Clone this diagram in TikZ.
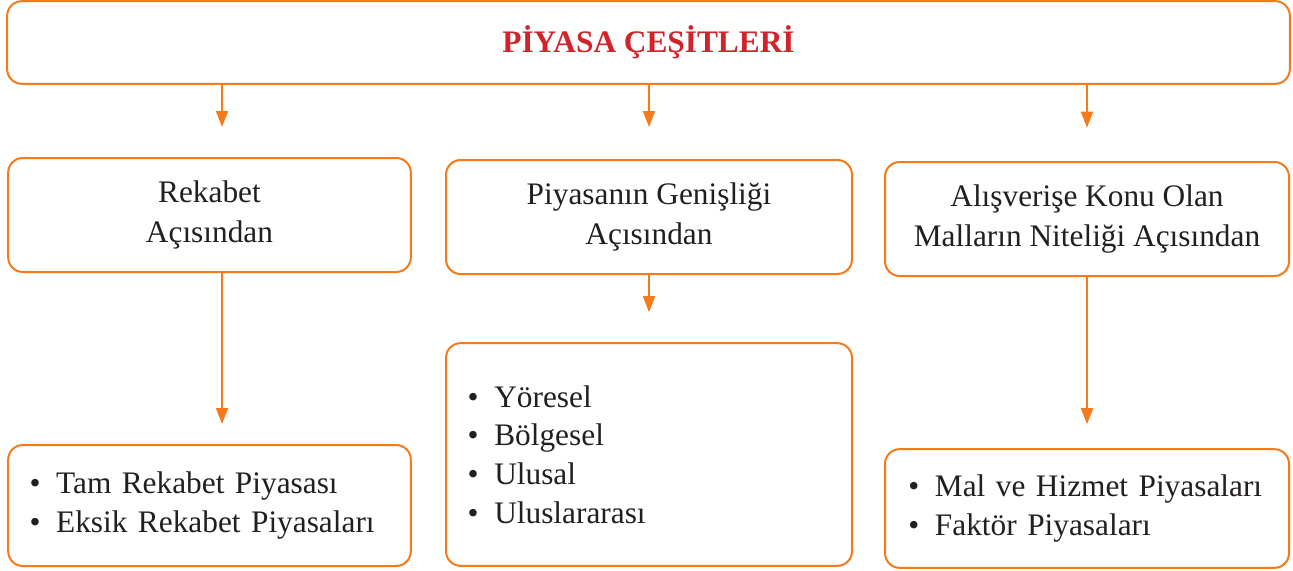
\documentclass[tikz,border=0pt]{standalone}
\usepackage{fontspec}
\setmainfont{Liberation Serif}
\usepackage{xcolor}
\usetikzlibrary{arrows.meta, positioning, calc}
\definecolor{cizgi}{RGB}{247,122,26}
\definecolor{baslik}{RGB}{210,35,42}
\definecolor{yazi}{RGB}{35,31,32}
\newcommand{\madde}[1]{\makebox[20pt][l]{\textbullet}#1}
\tikzstyle{kutu} = [rectangle, rounded corners=11pt, draw=cizgi, line width=1.5pt, fill=white, text=yazi, font=\fontsize{23.5}{30}\selectfont]
\tikzstyle{baslikkutu} = [kutu, minimum width=962pt, minimum height=62pt, text=baslik, font=\fontsize{23.5}{29}\selectfont\bfseries]
\tikzstyle{ustkutu} = [kutu, minimum height=85.5pt, align=center]
\tikzstyle{altkutu} = [kutu, align=left, inner xsep=16pt, font=\fontsize{23.5}{29}\selectfont]
\tikzstyle{arrow} = [draw=cizgi, line width=1.3pt, -{Triangle[length=12pt, width=9pt]}]

\begin{document}
\begin{tikzpicture}[x=0.75pt, y=-0.75pt]
    \useasboundingbox (0,0) rectangle (1293,571);
    \node[baslikkutu] (piyasa) at (648.5,42.5) {PİYASA ÇEŞİTLERİ};
    \node[ustkutu, minimum width=302pt] (rekabet) at (209.5,215) {\raisebox{-3pt}{Rekabet}\\\raisebox{-3pt}{Açısından}};
    \node[ustkutu, minimum width=304.5pt] (genislik) at (649,217) {\raisebox{-3pt}{Piyasanın Genişliği}\\\raisebox{-3pt}{Açısından}};
    \node[ustkutu, minimum width=303pt] (nitelik) at (1087,219) {\raisebox{-3pt}{Alışverişe Konu Olan}\\\raisebox{-3pt}{Malların Niteliği Açısından}};
    \node[altkutu, minimum width=302pt, minimum height=90.75pt, text width=270pt] (rekabettur) at (209.5,505.5)
        {\madde{Tam Rekabet Piyasası}\\\madde{Eksik Rekabet Piyasaları}};
    \node[altkutu, minimum width=304.5pt, minimum height=167pt, text width=272pt] (genisliktur) at (649,454.5)
        {\madde{Yöresel}\\\madde{Bölgesel}\\\madde{Ulusal}\\\madde{Uluslararası}};
    \node[altkutu, minimum width=303pt, minimum height=89pt, text width=268pt] (niteliktur) at (1087,508.5)
        {\madde{Mal ve Hizmet Piyasaları}\\\madde{Faktör Piyasaları}};

    \draw[arrow, shorten >=22.5pt] ([xshift=9.4pt]piyasa.south -| rekabet.north) -- ([xshift=9.4pt]rekabet.north);
    \draw[arrow, shorten >=24pt] (piyasa.south -| genislik.north) -- (genislik.north);
    \draw[arrow, shorten >=25pt] (piyasa.south -| nitelik.north) -- (nitelik.north);
    \draw[arrow, shorten >=15pt] ([xshift=9.4pt]rekabet.south) -- ([xshift=9.4pt]rekabettur.north);
    \draw[arrow, shorten >=22.5pt] (genislik.south) -- (genisliktur.north);
    \draw[arrow, shorten >=18pt] (nitelik.south) -- (niteliktur.north);
\end{tikzpicture}
\end{document}
